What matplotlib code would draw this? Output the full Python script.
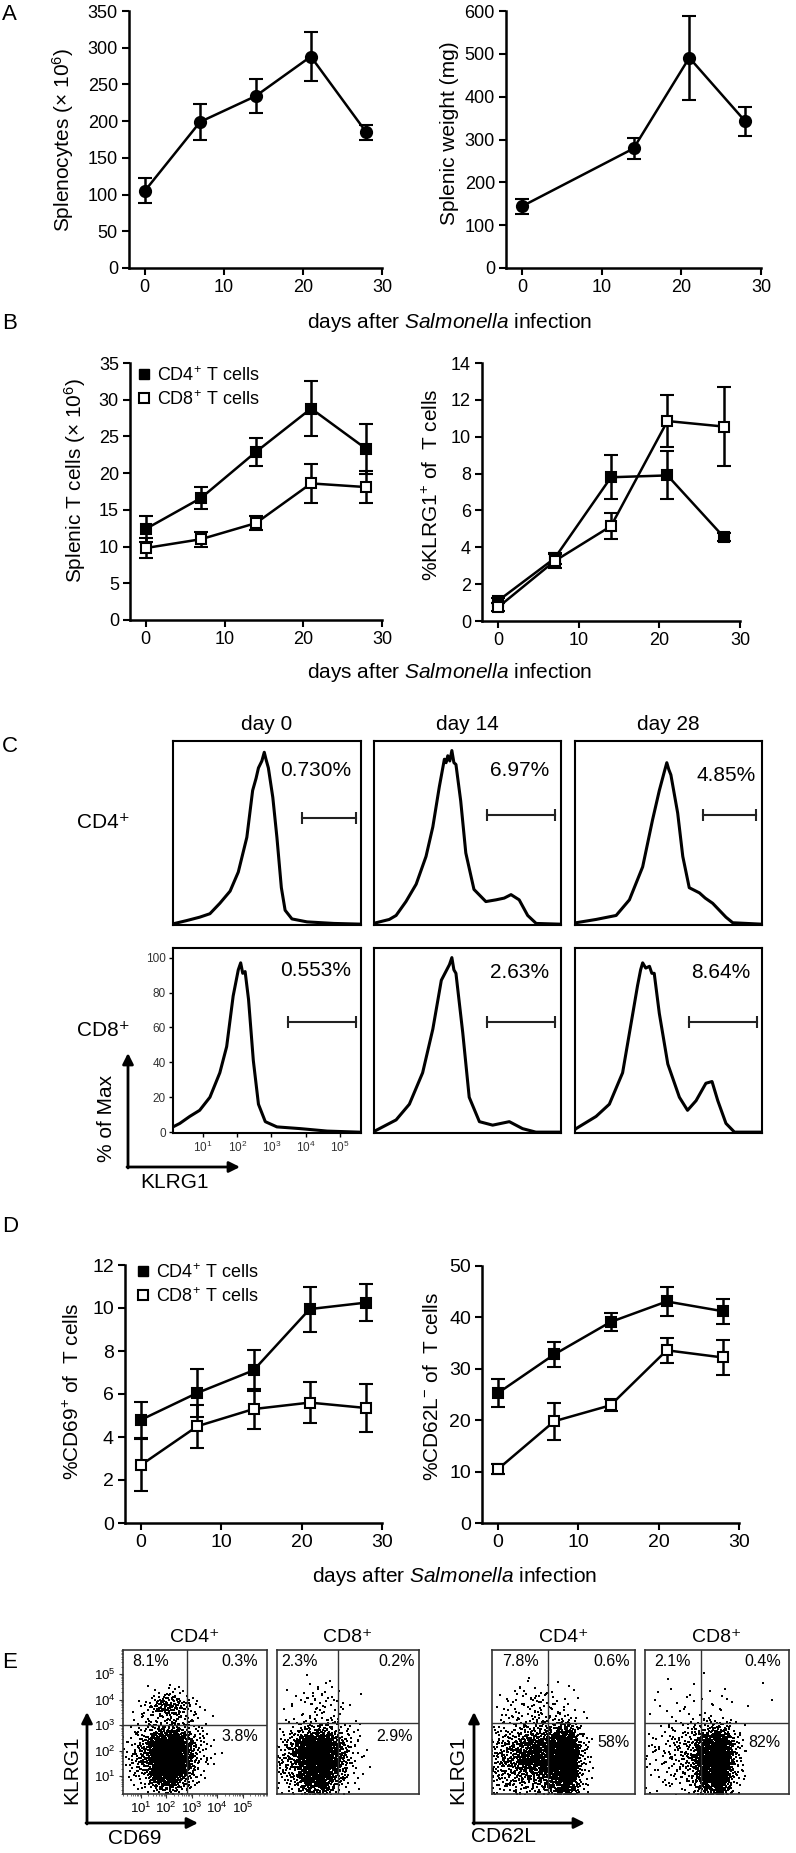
import numpy as np
import matplotlib
matplotlib.use("Agg")
import matplotlib.pyplot as plt
from matplotlib.lines import Line2D
from matplotlib.patches import FancyArrowPatch

plt.rcParams['font.family'] = ['Liberation Sans', 'DejaVu Sans']
plt.rcParams['mathtext.fontset'] = 'custom'
plt.rcParams['mathtext.rm'] = 'Liberation Sans'
plt.rcParams['mathtext.it'] = 'Liberation Sans:italic'
plt.rcParams['mathtext.bf'] = 'Liberation Sans:bold'

# --- panel A ---
days = [0, 7, 14, 21, 28]
splenocytes = [105, 199, 234, 288, 185]
splenocytes_err = [17, 24, 23, 34, 10]
days_w = [0, 14, 21, 28]
weight = [144, 279, 491, 343]
weight_err = [17, 25, 98, 34]

# --- panel B ---
tcells_cd4 = [12.4, 16.6, 22.9, 28.8, 23.3]
tcells_cd4_err = [1.8, 1.5, 1.9, 3.7, 3.4]
tcells_cd8 = [9.8, 11.0, 13.2, 18.6, 18.1]
tcells_cd8_err = [1.4, 1.0, 1.0, 2.6, 2.2]
klrg1_cd4 = [1.1, 3.4, 7.8, 7.9, 4.55]
klrg1_cd4_err = [0.15, 0.3, 1.2, 1.3, 0.2]
klrg1_cd8 = [0.75, 3.25, 5.15, 10.85, 10.55]
klrg1_cd8_err = [0.2, 0.4, 0.7, 1.4, 2.15]

# --- panel D ---
cd69_cd4 = [4.8, 6.05, 7.1, 9.95, 10.25]
cd69_cd4_err = [0.85, 1.1, 0.95, 1.05, 0.85]
cd69_cd8 = [2.7, 4.5, 5.3, 5.6, 5.35]
cd69_cd8_err = [1.2, 1.0, 0.95, 0.95, 1.1]
cd62l_cd4 = [25.3, 32.8, 39.1, 43.1, 41.2]
cd62l_cd4_err = [2.8, 2.5, 1.8, 2.9, 2.4]
cd62l_cd8 = [10.5, 19.8, 22.9, 33.6, 32.2]
cd62l_cd8_err = [1.0, 3.6, 1.2, 2.4, 3.5]

# --- panel C: KLRG1 histograms (log10 intensity, % of max) ---
h_cd4_d0_x = [0.17, 0.51, 0.9, 1.2, 1.49, 1.79, 2.03, 2.28, 2.45, 2.55, 2.62, 2.72, 2.79, 2.84, 2.91, 3.04, 3.16, 3.29, 3.4, 3.6, 4.04, 4.83, 5.61]
h_cd4_d0_y = [0.4, 2, 4, 6, 12, 19, 30, 50, 77, 84, 90, 94, 99, 95, 90, 73, 50, 21, 8, 3, 1.3, 0.4, 0]
h_cd4_d14_x = [0.12, 0.18, 0.57, 0.77, 1.06, 1.36, 1.65, 1.85, 2.04, 2.19, 2.24, 2.29, 2.35, 2.41, 2.47, 2.53, 2.67, 2.82, 3.06, 3.41, 3.71, 3.95, 4.15, 4.39, 4.64, 4.89, 5.57]
h_cd4_d14_y = [0.5, 0.8, 2.7, 5, 13, 23, 39, 56, 79, 95, 93, 97, 94, 100, 93, 92, 71, 41, 20, 13, 14, 15, 17, 14, 5, 0.4, 0]
h_cd4_d28_x = [0.15, 0.74, 1.33, 1.72, 2.11, 2.4, 2.6, 2.75, 2.82, 2.88, 2.94, 3.14, 3.29, 3.48, 3.78, 3.95, 4.17, 4.56, 4.76, 5.59]
h_cd4_d28_y = [0.8, 2.7, 5, 14, 33, 60, 77, 88, 93, 89, 86, 64, 39, 21, 18, 15, 12, 4, 0.8, 0]
h_cd8_d0_x = [0.12, 0.32, 0.61, 0.9, 1.2, 1.49, 1.69, 1.88, 2.03, 2.1, 2.16, 2.23, 2.33, 2.47, 2.62, 2.82, 3.16, 3.85, 4.63, 5.56]
h_cd8_d0_y = [3, 5, 9, 12.5, 20, 34, 49, 78, 93, 97, 91, 92, 76, 41, 16, 6, 3, 2, 0.6, 0]
h_cd8_d14_x = [0.12, 0.18, 0.77, 1.16, 1.55, 1.85, 2.1, 2.34, 2.41, 2.47, 2.53, 2.73, 2.92, 3.22, 3.61, 4.1, 4.49, 4.88, 5.57]
h_cd8_d14_y = [0.5, 1, 7, 16, 34, 59, 87, 96, 100, 93, 91, 57, 20, 6, 4, 6, 2, 0, 0]
h_cd8_d28_x = [0.12, 0.15, 0.74, 1.13, 1.52, 1.82, 1.96, 2.05, 2.11, 2.2, 2.31, 2.38, 2.45, 2.6, 2.85, 3.19, 3.43, 3.68, 3.97, 4.15, 4.32, 4.56, 4.81, 5.59]
h_cd8_d28_y = [1.5, 2, 9, 16, 34, 68, 84, 93, 97, 94, 95, 91, 91, 68, 39, 20, 12.5, 18, 28, 29, 18, 5, 0, 0]
hist_pct = ["0.730%", "6.97%", "4.85%", "0.553%", "2.63%", "8.64%"]
gate_lo = [3.88, 3.44, 3.88, 3.47, 3.44, 3.47]
gate_hi = [5.47, 5.44, 5.44, 5.47, 5.44, 5.47]
gate_y = [61, 63, 63, 63, 63, 63]
day_titles = ["day 0", "day 14", "day 28"]

# --- panel E: event counts per half-decade cell (rows from top: 5.0-5.5 ... 0.5-1.0) ---
grid_edges = [0.5, 1.0, 1.5, 2.0, 2.5, 3.0, 3.5, 4.0, 4.5, 5.0, 5.5]
e_cd4_cd69 = [
    [0, 0, 0, 0, 0, 0, 0, 0, 0, 0],
    [0, 0, 0, 0, 0, 0, 0, 0, 0, 0],
    [0, 1, 6, 8, 3, 0, 0, 0, 0, 0],
    [2, 8, 40, 55, 22, 4, 0, 0, 0, 0],
    [2, 5, 14, 18, 12, 4, 1, 0, 0, 0],
    [5, 14, 40, 50, 24, 8, 2, 0, 0, 0],
    [12, 40, 200, 230, 75, 15, 3, 0, 0, 0],
    [16, 50, 240, 260, 85, 15, 3, 0, 0, 0],
    [12, 32, 180, 210, 60, 10, 1, 0, 0, 0],
    [3, 12, 55, 70, 25, 4, 0, 0, 0, 0],
]
e_cd8_cd69 = [
    [0, 0, 0, 0, 0, 0, 0, 0, 0, 0],
    [0, 0, 0, 0, 0, 0, 0, 0, 0, 0],
    [0, 1, 3, 4, 2, 0, 0, 0, 0, 0],
    [1, 3, 10, 12, 5, 1, 0, 0, 0, 0],
    [1, 3, 5, 7, 5, 2, 0, 0, 0, 0],
    [4, 12, 32, 40, 20, 6, 1, 0, 0, 0],
    [16, 50, 200, 220, 70, 12, 2, 0, 0, 0],
    [20, 55, 240, 250, 80, 12, 2, 0, 0, 0],
    [14, 35, 160, 175, 45, 6, 1, 0, 0, 0],
    [3, 12, 45, 55, 15, 2, 0, 0, 0, 0],
]
e_cd4_cd62l = [
    [0, 0, 0, 0, 0, 0, 0, 0, 0, 0],
    [0, 0, 0, 0, 0, 0, 0, 0, 0, 0],
    [0, 1, 3, 4, 2, 1, 0, 0, 0, 0],
    [2, 6, 11, 13, 8, 4, 1, 0, 0, 0],
    [3, 7, 12, 14, 12, 9, 2, 0, 0, 0],
    [9, 15, 25, 30, 38, 65, 10, 0, 0, 0],
    [24, 40, 80, 100, 125, 260, 25, 0, 0, 0],
    [28, 45, 90, 110, 135, 280, 28, 0, 0, 0],
    [24, 32, 45, 50, 95, 240, 20, 0, 0, 0],
    [10, 12, 15, 16, 40, 105, 8, 0, 0, 0],
]
e_cd8_cd62l = [
    [0, 0, 0, 0, 0, 0, 0, 0, 0, 0],
    [0, 0, 0, 0, 0, 0, 0, 0, 0, 0],
    [0, 1, 1, 1, 1, 1, 1, 0, 1, 0],
    [1, 2, 2, 3, 3, 2, 1, 1, 0, 1],
    [1, 2, 3, 4, 4, 3, 1, 0, 0, 0],
    [2, 5, 8, 15, 35, 50, 9, 0, 0, 0],
    [5, 10, 18, 40, 160, 270, 28, 0, 0, 0],
    [5, 10, 18, 36, 175, 290, 28, 0, 0, 0],
    [4, 7, 11, 24, 135, 240, 20, 0, 0, 0],
    [2, 3, 4, 8, 48, 95, 6, 0, 0, 0],
]
quad_x = [2.82, 2.78, 2.58, 2.58]
quad_y = [3.0, 3.03, 3.03, 3.03]
quad_pct = [["8.1%", "0.3%", "3.8%"], ["2.3%", "0.2%", "2.9%"],
            ["7.8%", "0.6%", "58%"], ["2.1%", "0.4%", "82%"]]
e_titles = ["CD4⁺", "CD8⁺", "CD4⁺", "CD8⁺"]

W, H = 796, 1853
fig = plt.figure(figsize=(W / 100, H / 100), dpi=100)


def axbox(x0, y0, x1, y1):
    return fig.add_axes([x0 / W, 1 - y1 / H, (x1 - x0) / W, (y1 - y0) / H])


def ftext(x, y, s, **kw):
    kw.setdefault('ha', 'center')
    kw.setdefault('va', 'center')
    fig.text(x / W, 1 - y / H, s, **kw)


def arrow(x0, y0, x1, y1):
    fig.add_artist(FancyArrowPatch((x0 / W, 1 - y0 / H), (x1 / W, 1 - y1 / H),
                                   transform=fig.transFigure, arrowstyle='-|>',
                                   mutation_scale=16, lw=2, color='k',
                                   shrinkA=0, shrinkB=0))


def style_tc(ax, ymax, ystep):
    ax.spines[['top', 'right']].set_visible(False)
    for s in ['left', 'bottom']:
        ax.spines[s].set_linewidth(1.8)
    ax.set_xlim(-2, 30)
    ax.set_xticks([0, 10, 20, 30])
    ax.set_ylim(0, ymax)
    ax.set_yticks(np.arange(0, ymax + 0.01, ystep))
    ax.tick_params(width=1.5, length=5, labelsize=13, pad=3)


def series(ax, x, y, e, marker='o', filled=True):
    ax.errorbar(x, y, yerr=e, color='k', lw=1.8, marker=marker,
                ms=8 if marker == 'o' else 7.5,
                mfc='k' if filled else 'white', mew=1.5,
                capsize=5, capthick=1.8, elinewidth=1.8, clip_on=False)


def legend(ax, x, y):
    hs = [Line2D([], [], ls='none', marker='s', ms=7.5, color='k'),
          Line2D([], [], ls='none', marker='s', ms=7.5, color='k', mfc='white', mew=1.5)]
    ax.legend(hs, ["CD4$^{+}$ T cells", "CD8$^{+}$ T cells"], loc='upper left',
              bbox_to_anchor=(x / W, 1 - y / H), bbox_transform=fig.transFigure,
              frameon=False, fontsize=13, handlelength=0.6, handletextpad=0.4,
              labelspacing=0.3, borderpad=0, borderaxespad=0)


xlab = "days after $\\it{Salmonella}$ infection"

# ---------------- A ----------------
ax = axbox(129, 11, 382, 268)
style_tc(ax, 350, 50)
series(ax, days, splenocytes, splenocytes_err)
ax = axbox(506, 11, 761, 268)
style_tc(ax, 600, 100)
series(ax, days_w, weight, weight_err)
ftext(63, 140, "Splenocytes (× 10$^{6}$)", rotation=90, fontsize=15)
ftext(450, 133, "Splenic weight (mg)", rotation=90, fontsize=15)
ftext(450, 322, xlab, fontsize=15)

# ---------------- B ----------------
ax = axbox(130, 363, 382, 620)
style_tc(ax, 35, 5)
series(ax, days, tcells_cd4, tcells_cd4_err, 's', True)
series(ax, days, tcells_cd8, tcells_cd8_err, 's', False)
legend(ax, 139, 366)
ax = axbox(482, 363, 740, 621)
style_tc(ax, 14, 2)
series(ax, days, klrg1_cd4, klrg1_cd4_err, 's', True)
series(ax, days, klrg1_cd8, klrg1_cd8_err, 's', False)
ftext(75, 480, "Splenic T cells (× 10$^{6}$)", rotation=90, fontsize=15)
ftext(432, 485, "%KLRG1$^{+}$ of  T cells", rotation=90, fontsize=15)
ftext(450, 672, xlab, fontsize=15)

# ---------------- C ----------------
hists = [(h_cd4_d0_x, h_cd4_d0_y), (h_cd4_d14_x, h_cd4_d14_y), (h_cd4_d28_x, h_cd4_d28_y),
         (h_cd8_d0_x, h_cd8_d0_y), (h_cd8_d14_x, h_cd8_d14_y), (h_cd8_d28_x, h_cd8_d28_y)]
col_x = [(173, 361), (374, 561), (575, 762)]
row_y = [(741, 925), (948, 1133)]
pct_pos = [(0.76, 0.84), (0.78, 0.84), (0.81, 0.81), (0.76, 0.876), (0.78, 0.87), (0.78, 0.87)]
for k, (hx, hy) in enumerate(hists):
    r, c = divmod(k, 3)
    ax = axbox(col_x[c][0], row_y[r][0], col_x[c][1], row_y[r][1])
    ax.plot(hx, hy, color='k', lw=2.2)
    ax.plot([gate_lo[k], gate_hi[k]], [gate_y[k], gate_y[k]], color='#222', lw=1.5,
            marker='|', ms=9, mew=1.5)
    ax.set_xlim(0.12, 5.62)
    ax.set_ylim(-0.5, 105.5)
    for s in ax.spines.values():
        s.set_linewidth(1.5)
    ax.text(pct_pos[k][0], pct_pos[k][1], hist_pct[k], transform=ax.transAxes,
            ha='center', va='center', fontsize=15)
    if k == 3:
        ax.set_yticks([0, 20, 40, 60, 80, 100])
        ax.set_xticks([1, 2, 3, 4, 5])
        ax.set_xticklabels(["$10^{%d}$" % d for d in range(1, 6)])
        ax.tick_params(length=3, width=1, labelsize=8.5, labelcolor='#333', pad=2)
    else:
        ax.set_xticks([])
        ax.set_yticks([])
for c, t in enumerate(day_titles):
    ftext((col_x[c][0] + col_x[c][1]) / 2, 725, t, fontsize=15)
ftext(103, 823, "CD4⁺", fontsize=15)
ftext(103, 1030, "CD8⁺", fontsize=15)
arrow(128, 1168, 128, 1053)
arrow(127, 1167, 240, 1167)
ftext(106, 1118, "% of Max", rotation=90, fontsize=15)
ftext(175, 1183, "KLRG1", fontsize=15)

# ---------------- D ----------------
ax = axbox(125, 1265, 382, 1523)
style_tc(ax, 12, 2)
ax.tick_params(labelsize=14)
series(ax, days, cd69_cd4, cd69_cd4_err, 's', True)
series(ax, days, cd69_cd8, cd69_cd8_err, 's', False)
legend(ax, 138, 1263)
ax = axbox(482, 1266, 739, 1523)
style_tc(ax, 50, 10)
ax.tick_params(labelsize=14)
series(ax, days, cd62l_cd4, cd62l_cd4_err, 's', True)
series(ax, days, cd62l_cd8, cd62l_cd8_err, 's', False)
ftext(73, 1391, "%CD69$^{+}$ of  T cells", rotation=90, fontsize=15)
ftext(433, 1386, "%CD62L$^{-}$ of  T cells", rotation=90, fontsize=15)
ftext(455, 1576, xlab, fontsize=15)


# ---------------- E ----------------
def halton(idx, base):
    res = np.zeros(len(idx))
    f = 1.0
    i = idx.copy()
    while np.any(i > 0):
        f /= base
        res += f * (i % base)
        i //= base
    return res


def tent(u):
    # spread each cell's events over a triangle one cell wide on each side
    return np.where(u < 0.5, np.sqrt(2 * u) - 1, 1 - np.sqrt(2 - 2 * u))


e_boxes = [(123, 267), (277, 419), (492, 635), (645, 789)]
e_grids = [e_cd4_cd69, e_cd8_cd69, e_cd4_cd62l, e_cd8_cd62l]
pct_xy = [[(0.19, 0.92), (0.81, 0.92), (0.81, 0.40)],
          [(0.16, 0.92), (0.84, 0.92), (0.83, 0.40)],
          [(0.20, 0.92), (0.84, 0.92), (0.85, 0.36)],
          [(0.19, 0.92), (0.82, 0.92), (0.83, 0.36)]]
edges = np.array(grid_edges)
for k, (x0, x1) in enumerate(e_boxes):
    ax = axbox(x0, 1650, x1, 1794)
    grid = np.array(e_grids[k])[::-1]
    start = 1
    px, py = [], []
    for j in range(grid.shape[0]):
        for i in range(grid.shape[1]):
            n = int(grid[j, i])
            if n == 0:
                continue
            idx = np.arange(start, start + n)
            start += n
            w = edges[i + 1] - edges[i]
            cx = (edges[i] + edges[i + 1]) / 2
            cy = (edges[j] + edges[j + 1]) / 2
            px.append(cx + tent(halton(idx, 2)) * w)
            py.append(cy + tent(halton(idx, 3)) * w)
    ax.scatter(np.concatenate(px), np.concatenate(py), s=0.9, marker='s',
               lw=0, color='k')
    ax.axvline(quad_x[k], color='#333', lw=1)
    ax.axhline(quad_y[k], color='#333', lw=1)
    ax.set_xlim(0.57, 5.71)
    ax.set_ylim(0.63, 5.47)
    for s in ax.spines.values():
        s.set_linewidth(1.2)
        s.set_color('#333')
    for t, (tx, ty) in zip(quad_pct[k], pct_xy[k]):
        ax.text(tx, ty, t, transform=ax.transAxes, ha='center', va='center', fontsize=11.5)
    ftext((x0 + x1) / 2, 1638, e_titles[k], fontsize=14)
    if k == 0:
        ticks = [1, 2, 3, 4, 5]
        minor = [d + np.log10(m) for d in range(0, 6) for m in range(2, 10)]
        ax.set_xticks(ticks)
        ax.set_yticks(ticks)
        ax.set_xticks(minor, minor=True)
        ax.set_yticks(minor, minor=True)
        labs = ["$10^{%d}$" % d for d in ticks]
        ax.set_xticklabels(labs)
        ax.set_yticklabels(labs)
        ax.tick_params(which='major', length=3, width=0.8, labelsize=9.5, pad=2, color='#333')
        ax.tick_params(which='minor', length=1.5, width=0.6, color='#555')
    else:
        ax.set_xticks([])
        ax.set_yticks([])

arrow(87, 1824, 87, 1712)
arrow(86, 1823, 198, 1823)
ftext(72, 1770, "KLRG1", rotation=90, fontsize=15)
ftext(135, 1838, "CD69", fontsize=15)
arrow(474, 1824, 474, 1712)
arrow(473, 1823, 585, 1823)
ftext(458, 1770, "KLRG1", rotation=90, fontsize=15)
ftext(503, 1836, "CD62L", fontsize=15)

# panel letters
for letter, y in zip("ABCDE", [15, 323, 747, 1227, 1663]):
    ftext(2, y, letter, fontsize=16, ha='left')

fig.savefig("out.png", dpi=100)
